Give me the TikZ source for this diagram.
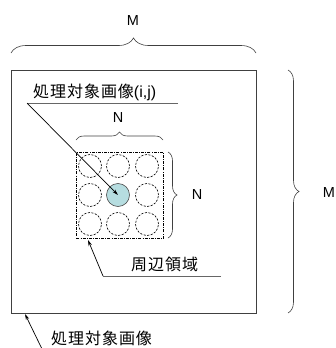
\documentclass[tikz,border=0pt]{standalone}
\usepackage{fontspec}
\setmainfont{Liberation Sans}
\newfontfamily\jp[LetterSpace=6]{Noto Sans CJK JP}
\usetikzlibrary{decorations.pathreplacing,arrows.meta}
\definecolor{cfill}{HTML}{B6DDE0}
\begin{document}
\begin{tikzpicture}[x=1pt,y=-1pt,
  lbl/.style={font=\fontsize{14.5}{15}\selectfont, inner sep=0pt},
  jlbl/.style={font=\fontsize{16}{16}\selectfont\jp, inner sep=0pt},
  bracestyle/.style={decorate, decoration={brace, amplitude=#1}, draw=black!75, line width=0.6pt},
  cell/.style={circle, draw=black, line width=0.6pt, dash pattern=on 2.2pt off 1.4pt, minimum size=23pt, inner sep=0pt},
  ptr/.style={-{Stealth[length=6pt,width=3.5pt]}, line width=0.7pt},
  uline/.style={draw=black!60, line width=0.8pt}]
\useasboundingbox (0,0) rectangle (335,348);
% outer image
\node[draw=black!75, line width=0.7pt, minimum width=245pt, minimum height=243pt, inner sep=0pt, anchor=north west] (img) at (11,70) {};
% top brace M
\draw[bracestyle=15] (11,53) -- (256,53);
\node[lbl] (mtop) at (133,21) {M};
% right brace M
\draw[bracestyle=11] (288,70) -- (288,313);
\node[lbl] (mright) at (329,193) {M};
% neighbourhood rectangle
\node[draw=black, line width=0.7pt, dash pattern=on 3pt off 1.2pt on 0.8pt off 1.2pt, minimum width=87pt, minimum height=86pt, inner sep=0pt, anchor=north west] (nbr) at (76,152) {};
% circles
\node[cell] (c11) at (90,166) {};
\node[cell] (c12) at (118,166) {};
\node[cell] (c13) at (147,166) {};
\node[cell] (c21) at (90,195) {};
\node[cell, fill=cfill, solid, draw=black!70] (c22) at (118,195) {};
\node[cell] (c23) at (147,195) {};
\node[cell] (c31) at (90,224) {};
\node[cell] (c32) at (118,224) {};
\node[cell] (c33) at (147,224) {};
% N braces
\draw[bracestyle=8] (76,140) -- (163,140);
\node[lbl] (ntop) at (118,118) {N};
\draw[bracestyle=9] (168,152) -- (168,238);
\node[lbl] (nright) at (197,195) {N};
% target pixel label
\node[jlbl, anchor=west] (tgt) at (33,92) {処理対象画像{\fontspec{Liberation Sans}(i,j)}};
\coordinate (tgtR) at (178,103);
\coordinate (tgtL) at (27,103);
\draw[uline] (tgtR) -- (tgtL);
\draw[ptr] (tgtL) -- (c22.center);
% surrounding region label
\node[jlbl, anchor=west] (sur) at (131,264) {周辺領域};
\coordinate (surR) at (221,276);
\coordinate (surL) at (103,276);
\draw[uline] (surR) -- (surL);
\draw[ptr] (surL) -- (88,240);
% image label
\node[jlbl, anchor=west] (imgl) at (51,338) {処理対象画像};
\coordinate (imgtail) at (42,349);
\draw[ptr] (imgtail) -- (25,314);
\end{tikzpicture}
\end{document}
